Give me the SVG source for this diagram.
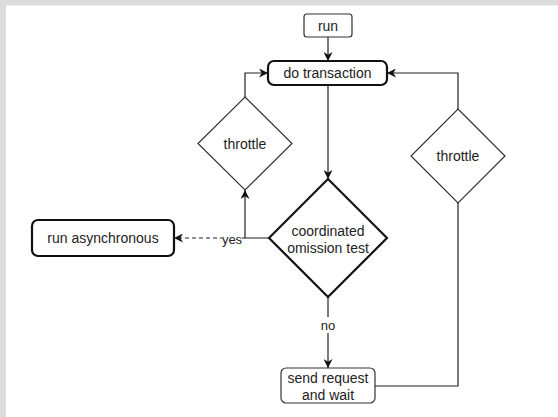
<svg xmlns="http://www.w3.org/2000/svg" width="558" height="417" viewBox="0 0 558 417">
<style>
.bg{fill:#dcdcdc}
.paper{fill:#ffffff}
.thin{fill:#fff;stroke:#333;stroke-width:1.2}
.thick{fill:#fff;stroke:#111;stroke-width:2.2}
.edge{fill:none;stroke:#222;stroke-width:1.2}
.dash{stroke-dasharray:4 3}
text{font-family:"Liberation Sans",Arial,sans-serif;font-size:14px;fill:#222;text-anchor:middle;dominant-baseline:central}
.lbl{font-size:13px}
</style>
<defs>
<marker id="arr" viewBox="0 0 10 10" refX="10" refY="5" markerWidth="9" markerHeight="9" markerUnits="userSpaceOnUse" orient="auto">
<path d="M0,0 L10,5 L0,10 L3,5 Z" fill="#111"/>
</marker>
</defs>
<rect class="bg" x="0" y="0" width="558" height="417"/>
<rect class="paper" x="6" y="5.5" width="552" height="411.5"/>
<g id="connectors">
<path class="edge" d="M328,37 L328,61" marker-end="url(#arr)"/>
<path class="edge" d="M328,85 L328,179" marker-end="url(#arr)"/>
<path class="edge" d="M245,97 L245,73 L268,73" marker-end="url(#arr)"/>
<path class="edge" d="M458,109 L458,73 L387,73" marker-end="url(#arr)"/>
<path class="edge" d="M375,386 L458,386 L458,203"/>
<path class="edge" d="M269,238 L245,238 L245,190" marker-end="url(#arr)"/>
<path class="edge dash" d="M245,238 L174,238" marker-end="url(#arr)"/>
<path class="edge" d="M328,297 L328,368" marker-end="url(#arr)"/>
<rect x="222" y="230" width="20" height="16" fill="#fff"/>
<text class="lbl" x="232" y="239">yes</text>
<rect x="320" y="317" width="16" height="16" fill="#fff"/>
<text class="lbl" x="328" y="325">no</text>
</g>
<g id="run">
<rect class="thin" x="304" y="14" width="48" height="23" rx="3"/>
<text x="328" y="26">run</text>
</g>
<g id="do-transaction">
<rect class="thick" x="268" y="61" width="119" height="24" rx="6"/>
<text x="327.5" y="73">do transaction</text>
</g>
<g id="throttle-left">
<polygon class="thin" points="245,97 292,143.5 245,190 198,143.5"/>
<text x="245" y="143.5">throttle</text>
</g>
<g id="throttle-right">
<polygon class="thin" points="458,109 505,156 458,203 411,156"/>
<text x="458" y="156">throttle</text>
</g>
<g id="coordinated-omission-test">
<polygon class="thick" points="328,179 387,238 328,297 269,238"/>
<text x="328" y="231">coordinated</text>
<text x="328" y="248">omission test</text>
</g>
<g id="run-asynchronous">
<rect class="thick" x="32" y="220" width="142" height="36" rx="6"/>
<text x="103" y="238">run asynchronous</text>
</g>
<g id="send-request">
<rect class="thin" x="281" y="368" width="94" height="35" rx="5"/>
<text x="328" y="377.5">send request</text>
<text x="328" y="395">and wait</text>
</g>
</svg>
